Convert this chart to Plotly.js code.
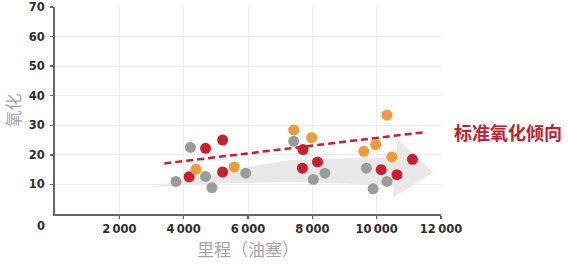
<!DOCTYPE html>
<html>
<head>
<meta charset="utf-8">
<script src="https://cdn.plot.ly/plotly-3.0.1.min.js"></script>
<style>
  html, body { margin: 0; padding: 0; background: #fff; }
  #chart { width: 570px; height: 264px; }
</style>
</head>
<body>
<div id="chart"></div>
<script>
// Data
const grayX   = [3760, 4210, 4680, 4880, 5930, 7420, 8030, 8390, 9680, 9890, 10320];
const grayY   = [11.0, 22.5, 12.7, 8.9, 13.8, 24.6, 11.7, 13.8, 15.5, 8.5, 11.0];
const redX    = [4170, 4680, 5210, 5210, 7710, 7690, 8160, 10140, 10630, 11110];
const redY    = [12.6, 22.2, 25.0, 14.2, 21.8, 15.5, 17.6, 15.0, 13.3, 18.5];
const orangeX = [4380, 5570, 7420, 7980, 9600, 9970, 10320, 10470];
const orangeY = [15.1, 15.9, 28.4, 25.8, 21.2, 23.5, 33.4, 19.3];
const trendX  = [3400, 11430];
const trendY  = [17.1, 27.6];
// Decorative arrow outline (data space)
const arrowX = [3010, 4500, 5750, 7300, 10620, 10650, 11760, 10510, 10530, 7300, 5120, 3010];
const arrowY = [9.15, 12.7, 15.4, 18.3, 19.3, 25.4, 14.1, 5.6, 9.8, 10.8, 10.3, 9.15];
const xTickVals = [2000, 4000, 6000, 8000, 10000, 12000];
const xTickText = ["2\u2009000", "4\u2009000", "6\u2009000", "8\u2009000", "10\u2009000", "12\u2009000"];
const yTickVals = [10, 20, 30, 40, 50, 60, 70];
const yTickText = ["10", "20", "30", "40", "50", "60", "70"];
const originLabel = "0";
const trendLabel = "标准氧化倾向";
const xTitle = "里程（油塞）";
const yTitle = "氧化";

const GRAY = "#9b9b9b", RED = "#c8202e", ORANGE = "#f09a3a";
const mk = (c) => ({ color: c, size: 11, line: { width: 0 } });

const traces = [
  { x: arrowX, y: arrowY, type: "scatter", mode: "lines", fill: "toself",
    fillcolor: "#e8e8e8", line: { width: 0, color: "#e8e8e8" }, hoverinfo: "skip", showlegend: false },
  { x: trendX, y: trendY, type: "scatter", mode: "lines",
    line: { color: RED, width: 2.5, dash: "7px,4px" }, hoverinfo: "skip", showlegend: false },
  { x: grayX, y: grayY, type: "scatter", mode: "markers", marker: mk(GRAY), showlegend: false },
  { x: redX, y: redY, type: "scatter", mode: "markers", marker: mk(RED), showlegend: false },
  { x: orangeX, y: orangeY, type: "scatter", mode: "markers", marker: mk(ORANGE), showlegend: false }
];

const tickFont = { family: "DejaVu Sans", size: 11.5, color: "#2e2e2e", weight: "bold" };
const titleFont = { family: "Noto Sans CJK SC", size: 17, color: "#a6a6a6" };

const layout = {
  width: 570, height: 264,
  margin: { l: 55, r: 129, t: 7, b: 50 },
  paper_bgcolor: "#fff", plot_bgcolor: "#fff",
  showlegend: false,
  xaxis: {
    range: [0, 12000], tickvals: xTickVals, ticktext: xTickText,
    showgrid: true, gridcolor: "#ededed", gridwidth: 1, zeroline: false,
    showline: true, linecolor: "#666", linewidth: 2,
    ticks: "outside", ticklen: 3, tickcolor: "#666", tickwidth: 1.5,
    tickfont: tickFont,
    title: { text: xTitle, font: titleFont, standoff: 5 }
  },
  yaxis: {
    range: [0, 70], tickvals: yTickVals, ticktext: yTickText,
    showgrid: true, gridcolor: "#ededed", gridwidth: 1, zeroline: false,
    showline: true, linecolor: "#666", linewidth: 2,
    ticks: "outside", ticklen: 3, tickcolor: "#666", tickwidth: 1.5,
    tickfont: tickFont, ticklabelstandoff: 3,
    title: { text: yTitle, font: titleFont, standoff: 9 }
  },
  annotations: [
    { x: 1.0285, y: 0.395, xref: "paper", yref: "paper", text: trendLabel, showarrow: false,
      xanchor: "left", yanchor: "middle",
      font: { family: "Noto Sans CJK SC", size: 18, color: "#c2202f", weight: "bold" } },
    { x: -0.036, y: -0.06, xref: "paper", yref: "paper", text: originLabel, showarrow: false,
      xanchor: "center", yanchor: "middle", font: tickFont }
  ]
};

Plotly.newPlot("chart", traces, layout, { displayModeBar: false, staticPlot: true });
</script>
</body>
</html>
